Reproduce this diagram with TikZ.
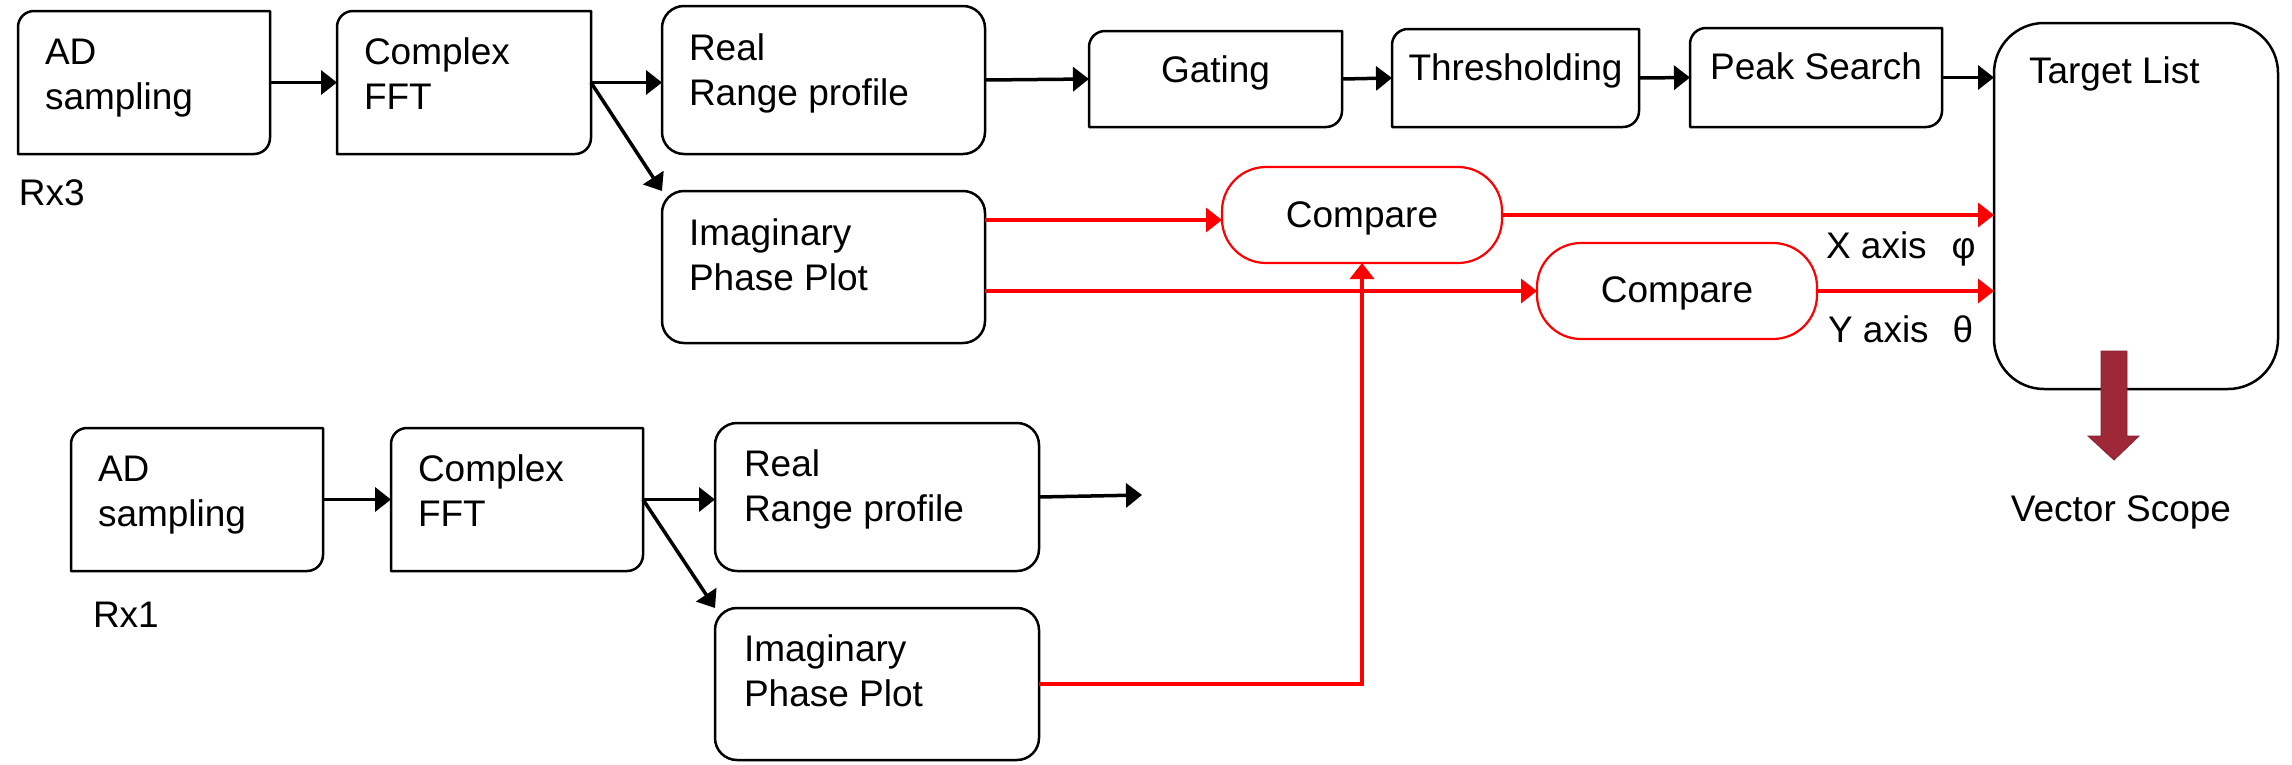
\documentclass[tikz,border=0pt]{standalone}
\usepackage{fontspec}
\setmainfont{Liberation Sans}
\usetikzlibrary{arrows.meta,calc}
\definecolor{vred}{RGB}{158,40,55}
\definecolor{pred}{RGB}{255,0,0}
\newcommand\sx{\rule{0pt}{30pt}}
\newcommand\diagoutline[1]{%
  \draw[boxline] (#1.west) [rounded corners=16pt] |- (#1.north) [sharp corners] -| (#1.east)
    [rounded corners=16pt] |- (#1.south) [sharp corners] -| (#1.west) -- cycle;}
\begin{document}
\begin{tikzpicture}[x=1pt,y=-1pt,
  every node/.style={inner sep=0pt, outer sep=0pt, font=\fontsize{37}{45}\selectfont},
  blk/.style n args={2}{minimum width=#1pt, minimum height=#2pt},
  boxline/.style={line width=2.5pt, line join=round},
  dbox/.style={},
  rbox/.style={draw, line width=2.5pt, rounded corners=22pt},
  tbox/.style={draw, line width=2.5pt, rounded corners=50pt},
  cbox/.style={draw=pred, line width=2.2pt, rounded corners=44pt},
  txt/.style={anchor=north west, align=left},
  lbl/.style={anchor=base},
  arr/.style={line width=3.5pt, -{Triangle[length=16pt,width=24pt]}},
  rarr/.style={arr, color=pred}]
\fill[white] (0,0) rectangle (2292,764);
\useasboundingbox (0,0) rectangle (2292,764);

% ---- Rx3 chain
\node[dbox, blk={252}{143}] (ad3) at (144,82.5) {};
\node[txt] (ad3t) at (45,34) {\sx AD\\sampling};
\node[lbl, anchor=base west] (rx3) at (19,205) {Rx3};
\node[dbox, blk={254}{143}] (fft3) at (464,82.5) {};
\node[txt] (fft3t) at (364,34) {\sx Complex\\FFT};
\node[rbox, blk={323}{148}] (real3) at (823.5,80) {};
\node[txt] (real3t) at (689,30) {\sx Real\\Range profile};
\node[rbox, blk={323}{152}] (imag3) at (823.5,267) {};
\node[txt] (imag3t) at (689,215) {\sx Imaginary\\Phase Plot};
\node[dbox, blk={253}{96}] (gate) at (1215.5,79) {};
\node[lbl] (gatet) at (1215.5,82) {Gating};
\node[dbox, blk={247}{98}] (thr) at (1515.5,78) {};
\node[lbl] (thrt) at (1515.5,80) {Thresholding};
\node[dbox, blk={252}{99}] (peak) at (1816,77.5) {};
\node[lbl] (peakt) at (1816,79) {Peak Search};
\node[tbox, blk={284}{366}] (target) at (2136,206) {};
\node[lbl, anchor=base west] (targett) at (2029,83) {Target List};
\node[cbox, blk={280}{96}] (cmp1) at (1362,215) {};
\node[lbl] (cmp1t) at (1362,227) {Compare};
\node[cbox, blk={280}{96}] (cmp2) at (1677,291) {};
\node[lbl] (cmp2t) at (1677,302) {Compare};
\node[lbl, anchor=base west] (xax) at (1826,258) {X axis\hspace{25pt}φ};
\node[lbl, anchor=base west] (yax) at (1828,342) {Y axis\hspace{24pt}θ};
\node[lbl] (vs) at (2121,521) {Vector Scope};

% ---- Rx1 chain
\node[dbox, blk={252}{143}] (ad1) at (197,499.5) {};
\node[txt] (ad1t) at (98,451) {\sx AD\\sampling};
\node[lbl, anchor=base west] (rx1) at (93,627) {Rx1};
\node[dbox, blk={252}{143}] (fft1) at (517,499.5) {};
\node[txt] (fft1t) at (418,451) {\sx Complex\\FFT};
\node[rbox, blk={324}{148}] (real1) at (877,497) {};
\node[txt] (real1t) at (744,446) {\sx Real\\Range profile};
\node[rbox, blk={324}{152}] (imag1) at (877,684) {};
\node[txt] (imag1t) at (744,631) {\sx Imaginary\\Phase Plot};
\coordinate (real1out) at (1142,495);

% outlines with two rounded diagonal corners
\diagoutline{ad3}
\diagoutline{fft3}
\diagoutline{gate}
\diagoutline{thr}
\diagoutline{peak}
\diagoutline{ad1}
\diagoutline{fft1}

% black connectors
\draw[arr] (ad3.east) -- (fft3.west);
\draw[arr] (fft3.east) -- (fft3.east -| real3.west);
\draw[arr] (fft3.east) -- (imag3.north west);
\draw[arr] (real3.east) -- (gate.west);
\draw[arr] (gate.east) -- (thr.west);
\draw[arr] (thr.east) -- (peak.west);
\draw[arr] (peak.east) -- (peak.east -| target.west);
\draw[arr] (ad1.east) -- (fft1.west);
\draw[arr] (fft1.east) -- (fft1.east -| real1.west);
\draw[arr] (fft1.east) -- (imag1.north west);
\draw[arr] (real1.east) -- (real1out);

% red connectors
\coordinate (c1in) at ([yshift=-5pt]cmp1.west);
\draw[rarr] (imag3.east |- c1in) -- (c1in);
\draw[rarr] (imag3.east |- cmp2.west) -- (cmp2.west);
\draw[rarr] (cmp1.east) -- (cmp1.east -| target.west);
\draw[rarr] (cmp2.east) -- (cmp2.east -| target.west);
\draw[rarr] (imag1.east) -| (cmp1.south);

% block arrow to Vector Scope
\filldraw[fill=vred, draw=vred!85!black, line width=0.8pt]
  (2101,351) -- (2127,351) -- (2127,436) -- (2139,436) -- (2114,460) -- (2088,436) -- (2101,436) -- cycle;
\end{tikzpicture}
\end{document}
